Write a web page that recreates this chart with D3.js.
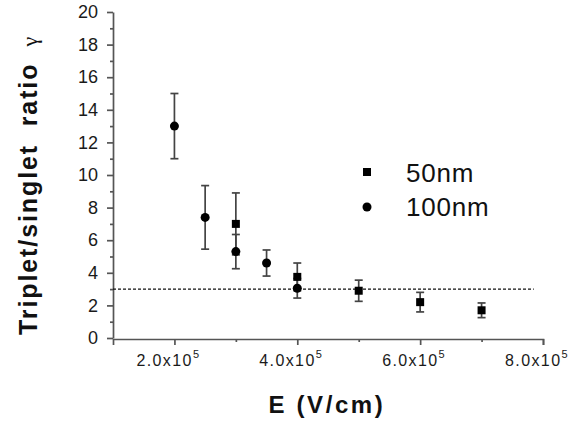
<!DOCTYPE html>
<html>
<head>
  <style>
    body { margin: 0; background: #fff; }
    svg { font-family: "Liberation Sans", Arial, sans-serif; }
  </style>
</head>
<body>
  <script src="https://cdn.jsdelivr.net/npm/d3@7"></script>
  <script>
    // 100nm series (circles)
    const fieldsCircle = [2.0e5, 2.5e5, 3.0e5, 3.5e5, 4.0e5];
    const ratioCircle = [13.0, 7.4, 5.3, 4.6, 3.05];
    const errCircle = [2.0, 1.95, 1.05, 0.8, 0.6];

    // 50nm series (squares)
    const fieldsSquare = [3.0e5, 4.0e5, 5.0e5, 6.0e5, 7.0e5];
    const ratioSquare = [7.0, 3.75, 2.9, 2.2, 1.7];
    const errSquare = [1.9, 0.85, 0.65, 0.6, 0.45];

    const refLevel = 3;
    const xTickVals = [2e5, 4e5, 6e5, 8e5];
    const xTickLabels = ["2.0x10", "4.0x10", "6.0x10", "8.0x10"];
    const legendNames = ["50nm", "100nm"];

    const width = 577, height = 425;
    const margin = { top: 12, right: 34, bottom: 86, left: 113 };

    const svg = d3.select("body").append("svg")
      .attr("width", width)
      .attr("height", height);

    const x = d3.scaleLinear()
      .domain([1e5, 8e5])
      .range([margin.left, width - margin.right]);

    const y = d3.scaleLinear()
      .domain([0, 20])
      .range([height - margin.bottom - 1, margin.top]);

    const axisColor = "#555";

    // y axis
    const yAxis = svg.append("g")
      .attr("transform", `translate(${margin.left},0)`)
      .call(d3.axisLeft(y).tickValues(d3.range(0, 21, 2)).tickSize(6).tickPadding(9).tickSizeOuter(0));
    yAxis.selectAll(".tick text").attr("font-size", 18).attr("fill", "#1a1a1a");
    svg.append("g")
      .attr("transform", `translate(${margin.left},0)`)
      .call(d3.axisLeft(y).tickValues(d3.range(1, 20, 2)).tickSize(3).tickFormat("").tickSizeOuter(0))
      .select(".domain").remove();

    // x axis
    svg.append("g")
      .attr("transform", `translate(0,${y(0) + 1})`)
      .call(d3.axisBottom(x).tickValues(xTickVals).tickSize(6).tickFormat("").tickSizeOuter(6));
    svg.append("g")
      .attr("transform", `translate(0,${y(0) + 1})`)
      .call(d3.axisBottom(x).tickValues([3e5, 5e5, 7e5]).tickSize(3).tickFormat("").tickSizeOuter(0))
      .select(".domain").remove();

    svg.selectAll(".domain, .tick line")
      .attr("stroke", axisColor)
      .attr("stroke-width", 1.7);
    svg.selectAll(".tick text").attr("font-family", "Liberation Sans, Arial, sans-serif");

    // x tick labels with superscript
    const xl = svg.append("g").selectAll("text")
      .data(xTickVals)
      .join("text")
      .attr("x", d => x(d) - 6)
      .attr("y", y(0) + 28)
      .attr("text-anchor", "middle")
      .attr("font-size", 16)
      .attr("letter-spacing", 1.4)
      .attr("fill", "#1a1a1a");
    xl.append("tspan").text((d, i) => xTickLabels[i]);
    xl.append("tspan").attr("dy", -8).attr("font-size", 11).text("5");

    // dashed reference line
    svg.append("line")
      .attr("x1", x(1e5)).attr("x2", x(7.85e5))
      .attr("y1", y(refLevel)).attr("y2", y(refLevel))
      .attr("stroke", "#111")
      .attr("stroke-width", 1.1)
      .attr("stroke-dasharray", "3,2");

    function errorBars(xs, ys, es) {
      const g = svg.append("g").attr("stroke", "#444").attr("stroke-width", 1.7);
      xs.forEach((v, i) => {
        const cx = x(v), top = y(ys[i] + es[i]), bot = y(ys[i] - es[i]);
        g.append("line").attr("x1", cx).attr("x2", cx).attr("y1", top).attr("y2", bot);
        g.append("line").attr("x1", cx - 4).attr("x2", cx + 4).attr("y1", top).attr("y2", top);
        g.append("line").attr("x1", cx - 4).attr("x2", cx + 4).attr("y1", bot).attr("y2", bot);
      });
    }
    errorBars(fieldsSquare, ratioSquare, errSquare);
    errorBars(fieldsCircle, ratioCircle, errCircle);

    svg.append("g").selectAll("rect")
      .data(fieldsSquare)
      .join("rect")
      .attr("x", d => x(d) - 4)
      .attr("y", (d, i) => y(ratioSquare[i]) - 4)
      .attr("width", 8).attr("height", 8)
      .attr("fill", "#000");

    svg.append("g").selectAll("circle")
      .data(fieldsCircle)
      .join("circle")
      .attr("cx", d => x(d))
      .attr("cy", (d, i) => y(ratioCircle[i]))
      .attr("r", 4.5)
      .attr("fill", "#000");

    // legend
    const leg = svg.append("g");
    leg.append("rect").attr("x", 363).attr("y", 168).attr("width", 8).attr("height", 8).attr("fill", "#000");
    leg.append("circle").attr("cx", 367).attr("cy", 207).attr("r", 4.5).attr("fill", "#000");
    leg.selectAll("text")
      .data(legendNames)
      .join("text")
      .attr("x", 406)
      .attr("y", (d, i) => 182 + i * 34)
      .attr("font-size", 26)
      .attr("letter-spacing", 0.8)
      .attr("fill", "#111")
      .text(d => d);

    // axis titles
    svg.append("text")
      .attr("x", 327)
      .attr("y", 413)
      .attr("text-anchor", "middle")
      .attr("font-size", 24)
      .attr("font-weight", "bold")
      .attr("letter-spacing", 2.6)
      .attr("fill", "#111")
      .text("E (V/cm)");

    const yt = svg.append("text")
      .attr("transform", "translate(37,335) rotate(-90)")
      .attr("font-size", 25)
      .attr("font-weight", "bold")
      .attr("letter-spacing", 1.9)
      .style("white-space", "pre")
      .attr("fill", "#111");
    yt.append("tspan").text("Triplet/singlet  ratio");
    yt.append("tspan").attr("dx", 16).attr("font-weight", "normal").attr("letter-spacing", 0)
      .attr("font-family", "Liberation Serif, serif").attr("font-size", 22).text("γ");
  </script>
</body>
</html>
